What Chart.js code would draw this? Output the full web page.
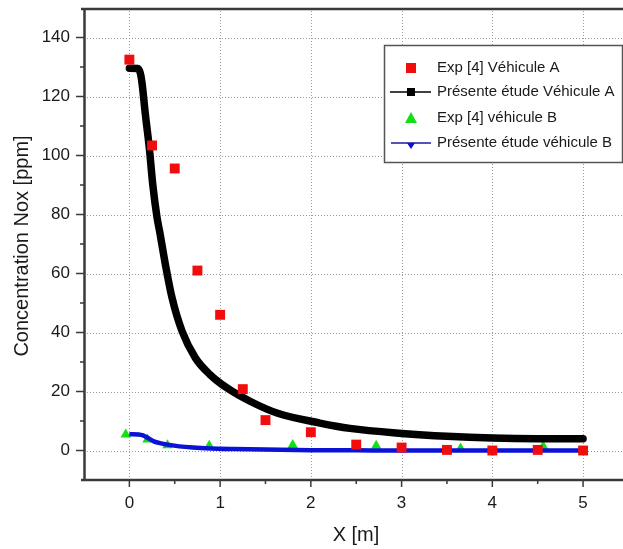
<!DOCTYPE html>
<html><head><meta charset="utf-8">
<script src="https://cdn.jsdelivr.net/npm/chart.js@4/dist/chart.umd.min.js"></script>
<style>html,body{margin:0;padding:0;background:#fff;overflow:hidden}#wrap{width:623px;height:549px;position:relative}</style>
</head><body><div id="wrap"><canvas id="c" width="623" height="549"></canvas></div>
<script>
// Exp [4] Véhicule A (red squares)
const expA_x = [0, 0.25, 0.5, 0.75, 1, 1.25, 1.5, 2, 2.5, 3, 3.5, 4, 4.5, 5];
const expA_y = [132.5, 103.4, 95.6, 61, 46, 20.8, 10.3, 6.2, 2, 1, 0.2, 0, 0.2, 0];
// Présente étude Véhicule A (black curve)
const modelA_x = [0, 0.09, 0.12, 0.14, 0.176, 0.22, 0.257, 0.305, 0.335, 0.396, 0.47, 0.58, 0.727, 0.89, 1.076, 1.33, 1.627, 2.1, 2.43, 3, 3.5, 4, 4.5, 5];
const modelA_y = [129.6, 129.5, 128, 124.4, 114, 102.5, 90.4, 79, 74, 63.2, 51.8, 40.5, 31.4, 25.7, 21.2, 16.7, 12.7, 9.3, 7.5, 5.8, 4.8, 4.2, 4.0, 4.0];
// Exp [4] véhicule B (green triangles)
const expB_x = [-0.04, 0.2, 0.42, 0.88, 1.8, 2.72, 3.65, 4.56];
const expB_y = [5.4, 3.7, 1.8, 1.6, 1.9, 1.6, 0.7, 1.4];
// Présente étude véhicule B (blue curve)
const modelB_x = [0, 0.1, 0.15, 0.2, 0.27, 0.35, 0.42, 0.55, 0.7, 0.9, 1.15, 1.5, 2, 2.5, 3, 4, 5];
const modelB_y = [5.5, 5.4, 5.1, 4.3, 3.1, 2.4, 2.0, 1.4, 1.0, 0.7, 0.5, 0.3, 0.1, 0.05, 0, 0, 0];
// axis ticks
const xTicks = [-0.5, 0, 0.5, 1, 1.5, 2, 2.5, 3, 3.5, 4, 4.5, 5];
const xLabels = [0, 1, 2, 3, 4, 5];
const yTicks = [-10, 0, 10, 20, 30, 40, 50, 60, 70, 80, 90, 100, 110, 120, 130, 140, 150];
const yLabels = [0, 20, 40, 60, 80, 100, 120, 140];
const legendLabels = ['Exp [4] Véhicule A', 'Présente étude Véhicule A', 'Exp [4] véhicule B', 'Présente étude véhicule B'];
const xTitle = 'X [m]';
const yTitle = 'Concentration Nox [ppm]';

const zip = (xs, ys) => xs.map((x, i) => ({x, y: ys[i]}));
const RED = '#f20d0d', GREEN = '#12e012', BLUE = '#0a12d6', BLACK = '#000000';
const FONT = '"Liberation Sans", Arial, sans-serif';

const decor = {
  id: 'decor',
  beforeDatasetsDraw(chart) {
    const {ctx, chartArea: a, scales: {x, y}} = chart;
    ctx.save();
    ctx.strokeStyle = '#9a9a9a';
    ctx.lineWidth = 1;
    ctx.setLineDash([1, 2]);
    yLabels.forEach(v => {
      const py = Math.round(y.getPixelForValue(v)) + 0.5;
      ctx.beginPath(); ctx.moveTo(a.left, py); ctx.lineTo(a.right, py); ctx.stroke();
    });
    xLabels.forEach(v => {
      const px = Math.round(x.getPixelForValue(v)) + 0.5;
      ctx.beginPath(); ctx.moveTo(px, a.top); ctx.lineTo(px, a.bottom); ctx.stroke();
    });
    ctx.restore();
  },
  afterDraw(chart) {
    const {ctx, chartArea: a, scales: {x, y}} = chart;
    ctx.save();
    ctx.strokeStyle = '#3a3a3a';
    ctx.lineWidth = 2.5;
    ctx.setLineDash([]);
    ctx.beginPath();
    ctx.moveTo(a.left - 3, a.top + 1); ctx.lineTo(a.right, a.top + 1);
    ctx.moveTo(a.left + 0.5, a.top); ctx.lineTo(a.left + 0.5, a.bottom + 1);
    ctx.moveTo(a.left - 3, a.bottom); ctx.lineTo(a.right, a.bottom);
    ctx.stroke();
    ctx.lineWidth = 1.5;
    ctx.beginPath();
    yTicks.forEach(v => {
      if (v <= -10 || v >= 150) return;
      const py = y.getPixelForValue(v);
      const len = yLabels.includes(v) ? 8 : 4;
      ctx.moveTo(a.left, py); ctx.lineTo(a.left - len, py);
    });
    xTicks.forEach(v => {
      if (v <= -0.5) return;
      const px = x.getPixelForValue(v);
      const len = xLabels.includes(v) ? 7 : 4;
      ctx.moveTo(px, a.bottom); ctx.lineTo(px, a.bottom + len);
    });
    ctx.stroke();

    // axis titles
    ctx.fillStyle = '#1a1a1a';
    ctx.font = '20px ' + FONT;
    ctx.textAlign = 'center';
    ctx.textBaseline = 'middle';
    ctx.fillText(xTitle, 356, 535);
    ctx.save();
    ctx.translate(22, 246);
    ctx.rotate(-Math.PI / 2);
    ctx.fillText(yTitle, 0, 0);
    ctx.restore();

    // legend
    const bx = 384, by = 45, bw = 238, bh = 117;
    ctx.fillStyle = '#ffffff';
    ctx.fillRect(bx, by, bw, bh);
    ctx.strokeStyle = '#555';
    ctx.lineWidth = 1.5;
    ctx.strokeRect(bx + 0.5, by + 0.5, bw, bh);
    const rows = [68, 92, 118, 143];
    const mx = 411;
    ctx.fillStyle = RED;
    ctx.fillRect(mx - 5, rows[0] - 5, 10, 10);
    ctx.strokeStyle = BLACK; ctx.lineWidth = 1.5;
    ctx.beginPath(); ctx.moveTo(390, rows[1]); ctx.lineTo(431, rows[1]); ctx.stroke();
    ctx.fillStyle = BLACK;
    ctx.fillRect(mx - 4, rows[1] - 4, 8, 8);
    ctx.fillStyle = GREEN;
    ctx.beginPath(); ctx.moveTo(mx, rows[2] - 6); ctx.lineTo(mx + 6, rows[2] + 5); ctx.lineTo(mx - 6, rows[2] + 5); ctx.closePath(); ctx.fill();
    ctx.strokeStyle = '#1a1aa0'; ctx.lineWidth = 1.5;
    ctx.beginPath(); ctx.moveTo(391, rows[3]); ctx.lineTo(431, rows[3]); ctx.stroke();
    ctx.fillStyle = BLUE;
    ctx.beginPath(); ctx.moveTo(mx - 4, rows[3]); ctx.lineTo(mx + 4, rows[3]); ctx.lineTo(mx, rows[3] + 6); ctx.closePath(); ctx.fill();
    ctx.fillStyle = '#1a1a1a';
    ctx.font = '15px ' + FONT;
    ctx.textAlign = 'left';
    ctx.textBaseline = 'middle';
    legendLabels.forEach((t, i) => ctx.fillText(t, 437, rows[i]));
    ctx.restore();
  }
};

new Chart(document.getElementById('c'), {
  type: 'scatter',
  data: {
    datasets: [
      {label: legendLabels[0], data: zip(expA_x, expA_y), showLine: false, pointStyle: 'rect', pointRadius: 7, pointHoverRadius: 7, backgroundColor: RED, borderColor: RED, borderWidth: 0, order: 1},
      {label: legendLabels[1], data: zip(modelA_x, modelA_y), showLine: true, pointRadius: 0, borderColor: BLACK, borderWidth: 7.5, cubicInterpolationMode: 'monotone', borderCapStyle: 'round', borderJoinStyle: 'round', order: 2},
      {label: legendLabels[2], data: zip(expB_x, expB_y), showLine: false, pointStyle: 'triangle', pointRadius: 6, pointHoverRadius: 6, backgroundColor: GREEN, borderColor: GREEN, borderWidth: 0, order: 4},
      {label: legendLabels[3], data: zip(modelB_x, modelB_y), showLine: true, pointRadius: 0, borderColor: BLUE, borderWidth: 4.5, cubicInterpolationMode: 'monotone', order: 3}
    ]
  },
  options: {
    responsive: false,
    animation: false,
    events: [],
    layout: {autoPadding: false, padding: {top: 8, right: 0, left: 0, bottom: 0}},
    plugins: {legend: {display: false}, tooltip: {enabled: false}},
    scales: {
      x: {
        type: 'linear', min: -0.5, max: 5.44,
        grid: {display: false, drawTicks: false},
        border: {display: false},
        afterBuildTicks: s => { s.ticks = xTicks.map(v => ({value: v})); },
        afterFit: s => { s.height = 69; s.paddingLeft = 0; s.paddingRight = 0; s.paddingTop = 0; s.paddingBottom = 0; },
        ticks: {autoSkip: false, maxRotation: 0, padding: 13, color: '#1a1a1a', font: {family: FONT, size: 17},
          callback: v => xLabels.includes(v) ? String(v) : ''}
      },
      y: {
        type: 'linear', min: -10, max: 150,
        grid: {display: false, drawTicks: false},
        border: {display: false},
        afterBuildTicks: s => { s.ticks = yTicks.map(v => ({value: v})); },
        afterFit: s => { s.width = 84; s.paddingLeft = 0; s.paddingRight = 0; s.paddingTop = 0; s.paddingBottom = 0; },
        ticks: {autoSkip: false, padding: 14, color: '#1a1a1a', font: {family: FONT, size: 17},
          callback: v => yLabels.includes(v) ? String(v) : ''}
      }
    }
  },
  plugins: [decor]
});
</script>
</body></html>
